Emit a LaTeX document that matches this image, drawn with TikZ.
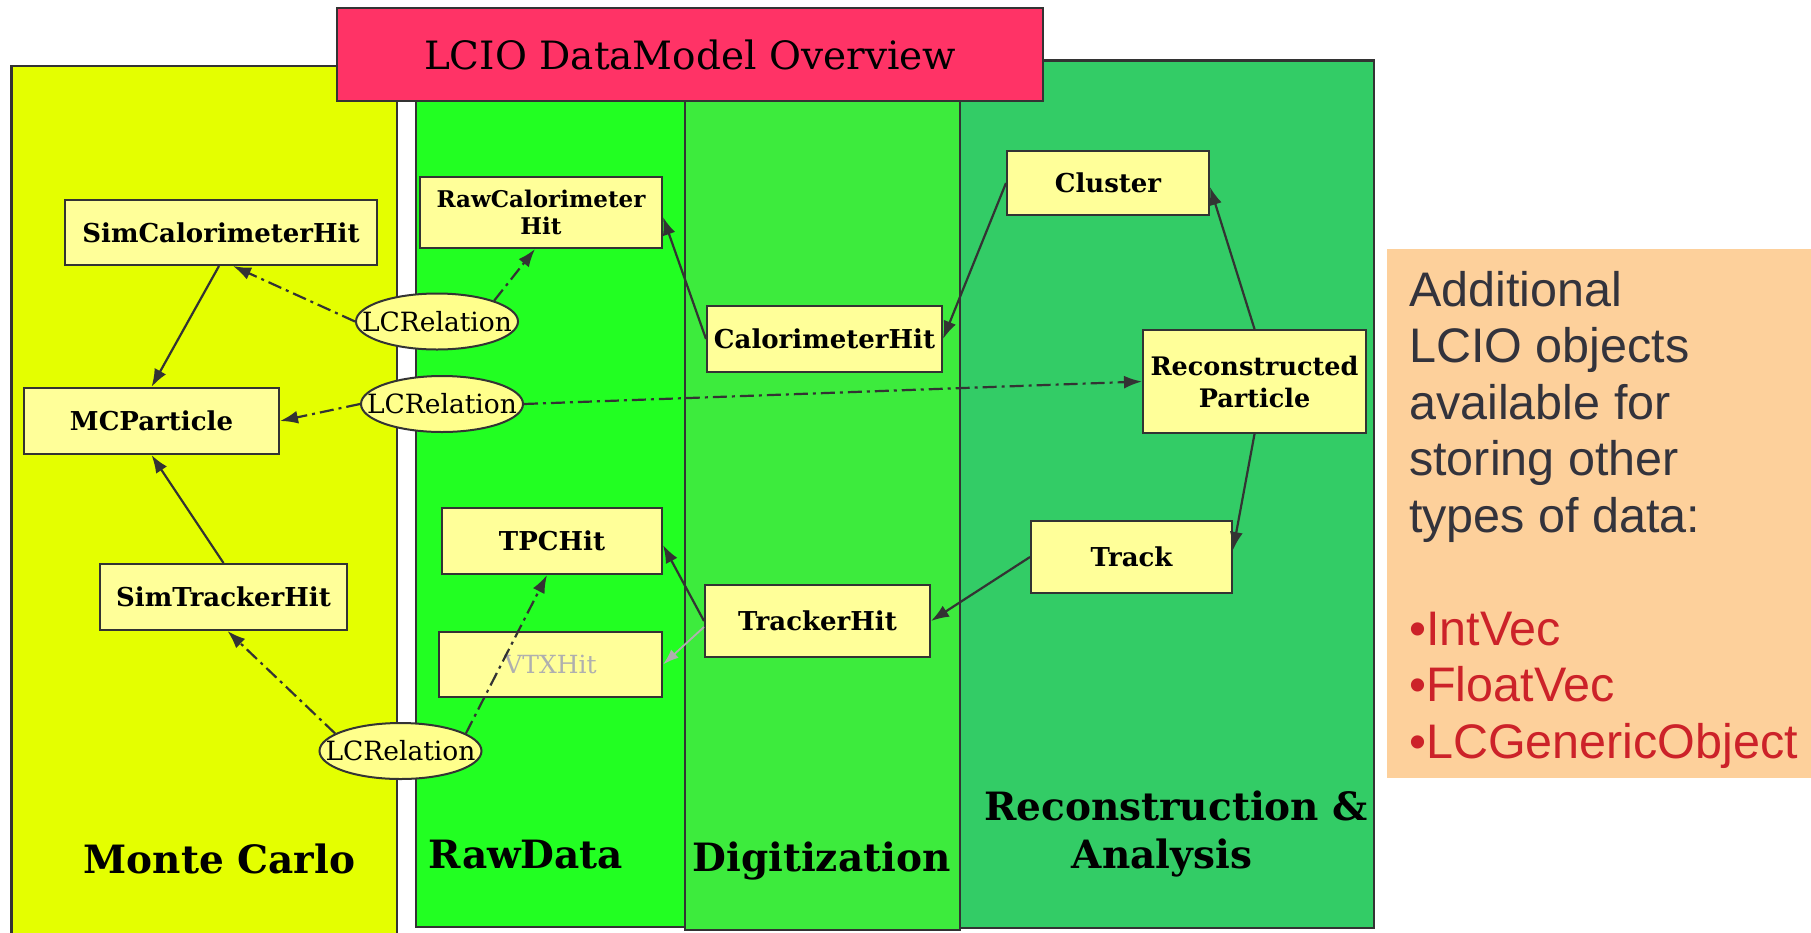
\documentclass[tikz,border=0pt]{standalone}
\usepackage{fontspec}
\usetikzlibrary{arrows.meta,shapes.geometric}
\newfontfamily\dvserif{DejaVu Serif}
\newfontfamily\lsans{Liberation Sans}
\definecolor{mcyellow}{RGB}{228,255,0}
\definecolor{rawgreen}{RGB}{34,255,34}
\definecolor{diggreen}{RGB}{61,235,61}
\definecolor{recogreen}{RGB}{51,204,102}
\definecolor{titlered}{RGB}{255,51,102}
\definecolor{boxyellow}{RGB}{255,255,153}
\definecolor{ellyellow}{RGB}{255,255,140}
\definecolor{edge}{RGB}{51,51,51}
\definecolor{infobg}{RGB}{253,208,155}
\definecolor{infotext}{RGB}{51,51,60}
\definecolor{infored}{RGB}{204,34,41}
\definecolor{fadegray}{RGB}{175,175,175}
\begin{document}
\begin{tikzpicture}[x=1pt,y=-1pt,
  panel/.style={draw=edge,line width=2.5pt},
  box/.style={rectangle,draw=edge,line width=2pt,fill=boxyellow,inner sep=0pt,align=center,
    font=\dvserif\bfseries\fontsize{26}{29}\selectfont},
  rel/.style={ellipse,draw=edge,line width=2pt,fill=ellyellow,inner ysep=0pt,inner xsep=-20pt,
    minimum width=162pt,minimum height=56pt,font=\dvserif\fontsize{26.5}{30}\selectfont},
  con/.style={draw=edge,line width=2.2pt,-{Latex[length=18pt,width=13pt]}},
  reldash/.style={con,dash pattern=on 14pt off 5pt on 3pt off 5pt},
  fadecon/.style={draw=fadegray,line width=1.8pt,-{Latex[length=16pt,width=11pt]}},
  plabel/.style={anchor=base,inner sep=0pt,font=\dvserif\bfseries\fontsize{39}{46}\selectfont},
]
\useasboundingbox (0,0) rectangle (1811,932);
% panels
\draw[panel,fill=mcyellow] (11.5,66) rectangle (397,945);
\draw[panel,fill=rawgreen] (416,90) rectangle (685,927);
\draw[panel,fill=diggreen] (685,90) rectangle (960,930);
\draw[panel,fill=recogreen] (960,60.5) rectangle (1374,928);
% title
\node[draw=edge,line width=2.5pt,fill=titlered,inner sep=0pt,minimum width=706pt,minimum height=93pt,
  font=\dvserif\fontsize{39}{46}\selectfont] (title) at (690,54.5) {LCIO DataModel Overview};
% panel labels
\node[plabel] (mclab) at (219.5,873) {Monte Carlo};
\node[plabel] (rawlab) at (526,868) {RawData};
\node[plabel] (diglab) at (821.5,871) {Digitization};
\node[plabel] (recolabA) at (1176,820) {Reconstruction \&};
\node[plabel] (recolabB) at (1162,868) {Analysis};
% boxes
\node[box,minimum width=312pt,minimum height=65pt] (simcal) at (221,232.5) {SimCalorimeterHit};
\node[box,minimum width=255pt,minimum height=66pt] (mcp) at (151.5,421) {MCParticle};
\node[box,minimum width=247pt,minimum height=66pt] (sth) at (223.5,597) {SimTrackerHit};
\node[box,minimum width=242pt,minimum height=71pt,font=\dvserif\bfseries\fontsize{23}{27}\selectfont] (rawcal) at (541,212.5) {RawCalorimeter\\Hit};
\node[box,minimum width=220pt,minimum height=66pt] (tpc) at (552,541) {TPCHit};
\node[box,minimum width=223pt,minimum height=65pt,text=fadegray,font=\dvserif\fontsize{25}{28}\selectfont] (vtx) at (550.5,664.5) {VTXHit};
\node[box,minimum width=235pt,minimum height=66pt] (calhit) at (824.5,339) {CalorimeterHit};
\node[box,minimum width=225pt,minimum height=72pt] (trk) at (817.5,621) {TrackerHit};
\node[box,minimum width=202pt,minimum height=64pt] (cluster) at (1108,183) {Cluster};
\node[box,minimum width=223pt,minimum height=103pt,font=\dvserif\bfseries\fontsize{25.5}{32}\selectfont] (reco) at (1254.5,381.5) {Reconstructed\\Particle};
\node[box,minimum width=201pt,minimum height=72pt] (track) at (1131.5,557) {Track};
% relations
\node[rel] (e1) at (437,321.5) {LCRelation};
\node[rel] (e2) at (442,404) {LCRelation};
\node[rel] (e3) at (400.5,751) {LCRelation};
% connectors
\draw[con] ([xshift=-2pt]simcal.south) -- (mcp.north);
\draw[con] (sth.north) -- (mcp.south);
\draw[reldash] (e1.west) -- ([xshift=12pt]simcal.south);
\draw[reldash] (e1.20) -- ([xshift=-6pt]rawcal.south);
\draw[reldash] (e2.west) -- (mcp.east);
\draw[reldash] (e2.east) -- (reco.west);
\draw[reldash] (e3.165) -- ([xshift=4pt]sth.south);
\draw[reldash] (e3.15) -- ([xshift=-5pt]tpc.south);
\draw[con] (calhit.west) -- ([yshift=-4.5pt]rawcal.east);
\draw[con] (cluster.west) -- (calhit.east);
\draw[con] (reco.north) -- ([yshift=-4pt]cluster.east);
\draw[con] (reco.south) -- ([yshift=7pt]track.east);
\draw[con] (track.west) -- (trk.east);
\draw[con] (trk.west) -- ([yshift=-4pt]tpc.east);
\draw[fadecon] ([yshift=-6pt]trk.west) -- (vtx.east);
% info box
\fill[infobg] (1387,249) rectangle (1815,778);
\node[anchor=base west,inner sep=0pt,align=left,font=\lsans\fontsize{48.5}{56.5}\selectfont,text=infotext] (info) at (1409,758)
  {Additional\\LCIO objects\\available for\\storing other\\types of data:\\[56.5pt]
   \textcolor{infored}{•IntVec}\\\textcolor{infored}{•FloatVec}\\\textcolor{infored}{•LCGenericObject}};
\end{tikzpicture}
\end{document}
